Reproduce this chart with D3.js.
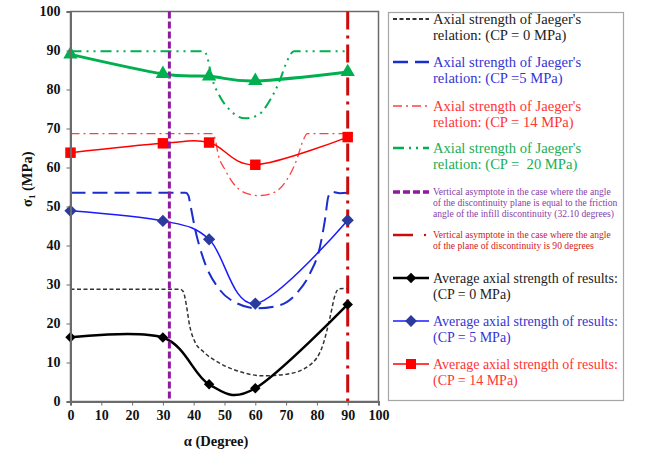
<!DOCTYPE html>
<html><head><meta charset="utf-8">
<script src="https://cdn.jsdelivr.net/npm/d3@7"></script>
<style>body{margin:0;background:#fff}svg{display:block}</style>
</head><body>
<svg id="c" width="667" height="452"></svg>
<script>
// ---- data ----
const xTicks = [0,10,20,30,40,50,60,70,80,90,100];
const yTicks = [0,10,20,30,40,50,60,70,80,90,100];

const resultAngles = [0,30,45,60,90];
const result0  = [16.5,16.4,4.4,3.4,24.9];
const result5  = [48.9,46.3,41.6,25.1,46.5];
const result14 = [63.8,66.2,66.4,60.7,67.8];
const result20 = [89.0,84.0,83.4,82.2,84.5];

const jaegerAngles0 = [0,35.6,36.6,37.6,38.6,40.4,43.1,48.5,54,62.6,70.2,77.8,82.1,84.3,85.9,87.2,90];
const jaeger0       = [28.8,28.8,28.2,24.8,19.8,15.3,12.8,9.8,7.9,6.6,7.0,9.4,14.9,21.7,27.3,28.9,29.0];
const jaegerAngles5 = [0,37.4,38.3,38.9,40.4,43.1,48.5,54,60.5,68,73.4,77.8,81,82.6,83.7,84.8,87.5,90];
const jaeger5       = [53.5,53.5,52.8,50.5,44.4,36.7,28.6,25.2,23.9,24.7,27.7,32.9,39.7,46.5,52.5,53.8,53.4,53.5];
const jaegerAngles14 = [0,46.1,46.9,48,50.2,52.9,56.7,61,65.8,70.2,73.4,75.6,76.9,90];
const jaeger14       = [68.7,68.7,67.5,63.2,59.4,55.9,53.5,52.8,53.5,56.8,61.9,67.1,68.7,68.7];
const jaegerAngles20 = [0,43.4,44.3,45.8,48.5,51.8,56.7,61,64.8,68,70.2,72.6,90];
const jaeger20       = [89.8,89.8,88.6,83.3,78.2,74.7,72.6,73.5,77.3,82.4,87.1,89.8,89.8];

const asymptoteFriction = 32.1;
const asymptote90 = 90;

const legendLabels = [
  ["Axial strength of Jaeger's","relation: (CP = 0 MPa)"],
  ["Axial strength of Jaeger's","relation: (CP =5 MPa)"],
  ["Axial strength of Jaeger's","relation: (CP = 14 MPa)"],
  ["Axial strength of Jaeger's","relation: (CP =  20 MPa)"],
  ["Vertical asymptote in the case where the angle","of the discontinuity plane is equal to the friction","angle of the infill discontinuity (32.10 degrees)"],
  ["Vertical asymptote in the case where the angle","of the plane of discontinuity is 90 degrees"],
  ["Average axial strength of results:","(CP = 0 MPa)"],
  ["Average axial strength of results:","(CP = 5 MPa)"],
  ["Average axial strength of results:","(CP = 14 MPa)"]
];

// ---- drawing ----
const FONT = "'Liberation Serif', 'Times New Roman', serif";
const svg = d3.select("#c").attr("font-family", FONT);
const x = d3.scaleLinear().domain([0,100]).range([70.5,378.5]);
const y = d3.scaleLinear().domain([0,100]).range([401.5,11.5]);

svg.append("rect").attr("x",70.5).attr("y",11.5).attr("width",308).attr("height",390)
  .attr("fill","none").attr("stroke","#6b6b6b").attr("stroke-width",1.5);

const styles = {
  j0:{c:"#333333",w:1.5,d:"4,2.5"},
  j5:{c:"#1a2ecc",w:2,d:"15,7"},
  j14:{c:"#ff4040",w:1.3,d:"9,4,2,4"},
  j20:{c:"#00b050",w:2,d:"11,5,2,5,2,5"},
  vf:{c:"#8e1a9e",w:3,d:"7,3"},
  v90:{c:"#cc0a0a",w:3,d:"18,6,3,6"}
};

const jline = d3.line().curve(d3.curveMonotoneX);
function drawJ(ang, vals, s){
  svg.append("path").attr("d", jline(ang.map((a,i)=>[x(a), y(vals[i])])))
    .attr("fill","none").attr("stroke",s.c).attr("stroke-width",s.w).attr("stroke-dasharray",s.d);
}
drawJ(jaegerAngles20, jaeger20, styles.j20);
drawJ(jaegerAngles14, jaeger14, styles.j14);
drawJ(jaegerAngles5, jaeger5, styles.j5);
drawJ(jaegerAngles0, jaeger0, styles.j0);

const rline = d3.line().curve(d3.curveCardinal.tension(0));
function drawR(vals, color, w){
  svg.append("path").attr("d", rline(resultAngles.map((a,i)=>[x(a), y(vals[i])])))
    .attr("fill","none").attr("stroke",color).attr("stroke-width",w);
}
drawR(result20,"#00b050",3);
drawR(result14,"#ff0000",1.5);
drawR(result5,"#1a1aff",1.5);
drawR(result0,"#000000",2.5);

[[asymptoteFriction,styles.vf],[asymptote90,styles.v90]].forEach(([a,s])=>{
  svg.append("line").attr("x1",x(a)).attr("x2",x(a)).attr("y1",y(100)).attr("y2",y(0))
    .attr("stroke",s.c).attr("stroke-width",s.w).attr("stroke-dasharray",s.d);
});

const sym = (type,size)=>d3.symbol().type(type).size(size)();
function markers(vals, type, size, color, rot){
  svg.append("g").selectAll("path").data(resultAngles).join("path")
    .attr("d", sym(type,size))
    .attr("transform",(a,i)=>`translate(${x(a)},${y(vals[i])})${rot?" rotate(45)":""}`)
    .attr("fill",color);
}
markers(result20, d3.symbolTriangle, 90, "#00b050", false);
markers(result14, d3.symbolSquare, 110, "#ff0000", false);
markers(result5, d3.symbolSquare, 75, "#2a3a9e", true);
markers(result0, d3.symbolSquare, 55, "#000000", true);

const xAxis = d3.axisBottom(x).tickValues(xTicks).tickSize(4).tickPadding(5);
const gx = svg.append("g").attr("transform","translate(0,401.5)").call(xAxis);
const yAxis = d3.axisLeft(y).tickValues(yTicks).tickSize(4).tickPadding(6);
const gy = svg.append("g").attr("transform","translate(70.5,0)").call(yAxis);
[gx,gy].forEach(g=>{
  g.attr("font-family",FONT);
  g.select(".domain").attr("stroke","#6b6b6b").attr("stroke-width",2);
  g.selectAll(".tick line").attr("stroke","#6b6b6b");
  g.selectAll(".tick text").attr("fill","#111").attr("font-size",14).attr("font-weight","bold");
});

svg.append("text").attr("x",216).attr("y",446).attr("text-anchor","middle")
  .attr("font-size",14.5).attr("font-weight","bold").attr("fill","#111")
  .text("α (Degree)");
const yt = svg.append("text").attr("transform","translate(32,207) rotate(-90)")
  .attr("font-size",14.5).attr("font-weight","bold").attr("fill","#111");
yt.append("tspan").text("σ");
yt.append("tspan").attr("font-size",9).attr("dy",3).text("1");
yt.append("tspan").attr("dy",-3).text(" (MPa)");

svg.append("rect").attr("x",388.5).attr("y",12.5).attr("width",235).attr("height",388)
  .attr("fill","#fff").attr("stroke","#a6a6a6").attr("stroke-width",1.2);

const legendColors = ["#222222","#3535d4","#ff3535","#20ae55","#8a40a8","#d02020","#222222","#3535d4","#ff3535"];
const legendY = [19,62,106,148,192,235,278,321,364];
const legendStyles = [styles.j0,styles.j5,styles.j14,styles.j20,styles.vf,styles.v90];
legendLabels.forEach((lines,i)=>{
  const small = (i===4||i===5);
  const fs = small?9.6:(i>5?14:14.6);
  const lh = small?11:16;
  const t = svg.append("text").attr("x",433).attr("y",legendY[i])
    .attr("font-size",fs).attr("fill",legendColors[i]).attr("font-family",FONT)
    .style("white-space","pre");
  lines.forEach((l,k)=>t.append("tspan").attr("x",433).attr("dy",k===0?"0.35em":lh).text(l));
  const ly = legendY[i];
  if(i<6){
    const s = legendStyles[i];
    if(i===5){
      svg.append("line").attr("x1",393).attr("x2",413).attr("y1",ly).attr("y2",ly)
        .attr("stroke",s.c).attr("stroke-width",2.5);
      svg.append("circle").attr("cx",425).attr("cy",ly).attr("r",1.2).attr("fill",s.c);
    } else {
      svg.append("line").attr("x1",393).attr("x2",429).attr("y1",ly).attr("y2",ly)
        .attr("stroke",s.c).attr("stroke-width",i===4?3.5:s.w+0.3).attr("stroke-dasharray",s.d);
    }
  } else {
    const rc = [["#000",2.5,"#000",55,true],["#1a1aff",1.5,"#2a3a9e",70,true],["#ff0000",1.5,"#ff0000",100,false]][i-6];
    svg.append("line").attr("x1",393).attr("x2",429).attr("y1",ly).attr("y2",ly)
      .attr("stroke",rc[0]).attr("stroke-width",rc[1]);
    svg.append("path").attr("d",sym(d3.symbolSquare,rc[3]))
      .attr("transform",`translate(411,${ly})${rc[4]?" rotate(45)":""}`).attr("fill",rc[2]);
  }
});
</script>
</body></html>
